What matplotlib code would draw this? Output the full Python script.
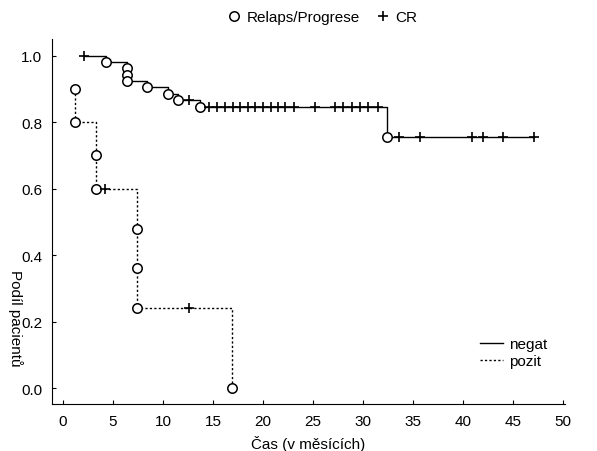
import matplotlib.pyplot as plt
from matplotlib.lines import Line2D

plt.rcParams['font.family'] = ['Liberation Sans', 'DejaVu Sans']

# negat skupina
neg_t = [2.1, 4.3, 6.4, 8.4, 10.5, 11.5, 13.7, 32.4, 47.1]
neg_s = [1.0, 0.981, 0.924, 0.905, 0.886, 0.867, 0.847, 0.754, 0.754]
neg_event_t = [4.3, 6.4, 6.4, 6.4, 8.4, 10.5, 11.5, 13.7, 32.4]
neg_event_s = [0.981, 0.962, 0.943, 0.924, 0.905, 0.886, 0.867, 0.847, 0.754]
neg_cens_t = [2.1, 12.6, 14.6, 15.4, 16.2, 17.0, 17.7, 18.5, 19.2, 20.0, 20.8, 21.5,
              22.2, 23.1, 25.2, 27.2, 28.0, 28.9, 29.7, 30.5, 31.5,
              33.6, 35.7, 40.9, 42.0, 44.0, 47.1]
neg_cens_s = [1.0, 0.867] + [0.847] * 19 + [0.754] * 6

# pozit skupina
pos_t = [1.2, 1.2, 3.3, 7.4, 16.9]
pos_s = [0.9, 0.8, 0.6, 0.24, 0.0]
pos_event_t = [1.2, 1.2, 3.3, 3.3, 7.4, 7.4, 7.4, 16.9]
pos_event_s = [0.9, 0.8, 0.7, 0.6, 0.48, 0.36, 0.24, 0.0]
pos_cens_t = [4.2, 12.6]
pos_cens_s = [0.6, 0.24]

x_ticks = [0, 5, 10, 15, 20, 25, 30, 35, 40, 45, 50]
y_ticks = [0.0, 0.2, 0.4, 0.6, 0.8, 1.0]

fs = 11
fig = plt.figure(figsize=(5.97, 4.52), dpi=100)
ax = fig.add_axes([0.0871, 0.104, 0.859, 0.808])

dots = (0, (1.6, 1.6))
ax.plot(neg_t, neg_s, drawstyle='steps-post', color='black', lw=1.0)
ax.plot(pos_t, pos_s, drawstyle='steps-post', color='black', lw=1.0, linestyle=dots)

ms = 6.8
for et, es in [(neg_event_t, neg_event_s), (pos_event_t, pos_event_s)]:
    ax.plot(et, es, 'o', ms=ms, mfc='white', mec='black', mew=1.1, ls='none')
for ct, cs in [(neg_cens_t, neg_cens_s), (pos_cens_t, pos_cens_s)]:
    ax.plot(ct, cs, '+', ms=ms, color='black', mew=1.2, ls='none')

ax.set_xlim(-1.1, 50.2)
ax.set_ylim(-0.048, 1.051)
ax.set_xticks(x_ticks)
ax.set_yticks(y_ticks)
ax.set_yticklabels([f'{v:.1f}' for v in y_ticks])
ax.tick_params(direction='in', length=3, width=0.8, labelsize=fs, colors='black', pad=7)
for s in ['top', 'right']:
    ax.spines[s].set_visible(False)
for s in ['left', 'bottom']:
    ax.spines[s].set_linewidth(0.8)

ax.set_xlabel('Čas (v měsících)', fontsize=fs, labelpad=5)
fig.text(0.026, 0.403, 'Podíl pacientů', rotation=270, fontsize=fs, ha='center', va='top')

# legenda nahore
h1 = Line2D([], [], marker='o', ls='none', mfc='white', mec='black', mew=1.1, ms=ms)
h2 = Line2D([], [], marker='+', ls='none', color='black', mew=1.2, ms=ms)
fig.legend([h1, h2], ['Relaps/Progrese', 'CR'], loc='center', bbox_to_anchor=(0.539, 0.96),
           ncol=2, frameon=False, fontsize=fs, handletextpad=0.3, columnspacing=1.0,
           handlelength=1.0)

# legenda dole
l1 = Line2D([], [], color='black', lw=1.0)
l2 = Line2D([], [], color='black', lw=1.0, linestyle=dots)
ax.legend([l1, l2], ['negat', 'pozit'], loc='center left', bbox_to_anchor=(0.808, 0.14),
          frameon=False, fontsize=fs, handlelength=1.5, handletextpad=0.4,
          labelspacing=0.2)

fig.savefig('out.png', dpi=100)
